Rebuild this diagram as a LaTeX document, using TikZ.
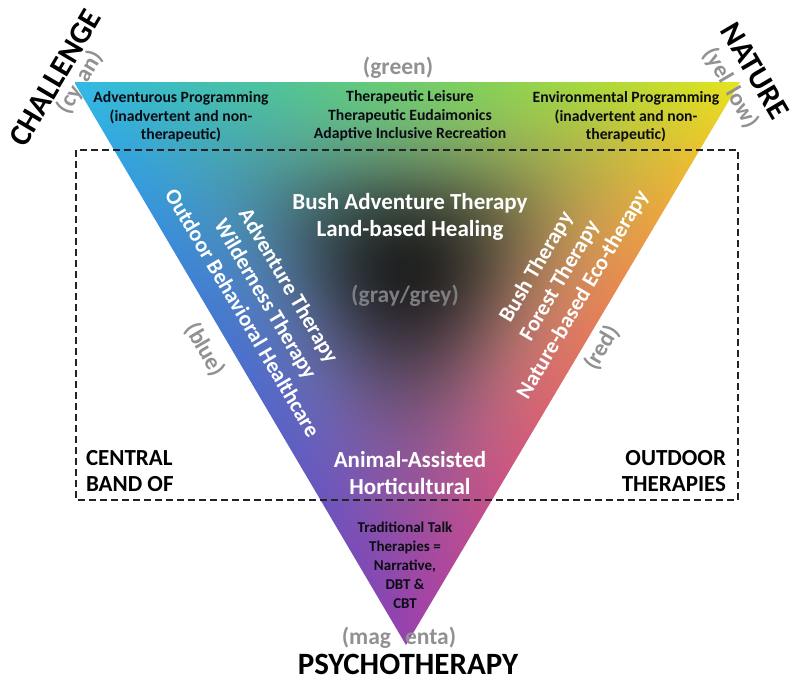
\documentclass[tikz,border=0pt]{standalone}
\usepackage{fontspec}
\setmainfont{Carlito}

% Subtractive colour field over the triangle: barycentric weights (a,b,c) for
% cyan (top left), yellow (top right), magenta (bottom), blended quadratically
% with green / red / blue along the edges and a dark core in the middle.
\pgfdeclarefunctionalshading{cmyblend}{\pgfpoint{0bp}{0bp}}{\pgfpoint{666bp}{563bp}}{}{
563 div 1 exch sub exch 666 div
1 index 0.5 mul 2 copy sub 3 1 roll add neg 1 add
exch 3 -1 roll
2 index dup mul 0.196 mul 2 index dup mul 0.902 mul add 1 index dup mul 0.600 mul add 3 index 3 index mul 0.627 mul add 2 index 2 index mul 2.0 mul add 3 index 2 index mul 0.400 mul add
4 1 roll
2 index dup mul 0.730 mul 2 index dup mul 0.894 mul add 1 index dup mul 0.255 mul add 3 index 3 index mul 1.569 mul add 2 index 2 index mul 0.627 mul add 3 index 2 index mul 0.760 mul add
4 1 roll
2 index dup mul 0.900 mul 2 index dup mul 0.118 mul add 1 index dup mul 0.680 mul add 3 index 3 index mul 0.706 mul add 2 index 2 index mul 0.784 mul add 3 index 2 index mul 1.620 mul add
4 1 roll
mul mul 27 mul dup mul dup mul 0.76 mul neg 1 add
4 1 roll
3 index mul 3 1 roll 3 index mul 3 1 roll 3 index mul 3 1 roll
4 -1 roll pop
}

\definecolor{tagGray}{RGB}{145,145,145}
\definecolor{coreGray}{RGB}{125,125,130}
\definecolor{inkBlack}{RGB}{12,12,20}
\definecolor{boxLine}{RGB}{35,35,35}

\begin{document}
\begin{tikzpicture}[x=1bp,y=-1bp,
  every node/.style={inner sep=0pt, outer sep=0pt},
  cornerlabel/.style={font=\bfseries\fontsize{31bp}{31bp}\selectfont, text=black},
  colortag/.style={font=\bfseries\fontsize{23.5bp}{23.5bp}\selectfont, text=tagGray},
  sideband/.style={font=\bfseries\fontsize{22bp}{27bp}\selectfont, text=white, align=center},
  midtext/.style={font=\bfseries\fontsize{23bp}{26.5bp}\selectfont, text=white, align=center},
  toptext/.style={font=\bfseries\fontsize{15.7bp}{18.5bp}\selectfont, text=inkBlack, align=center},
  talktext/.style={font=\bfseries\fontsize{15bp}{19bp}\selectfont, text=inkBlack, align=center},
  bandtext/.style={font=\bfseries\fontsize{23bp}{26.5bp}\selectfont, text=black},
  bandbox/.style={draw=boxLine, line width=1.6bp, dash pattern=on 7bp off 4bp}
]
\useasboundingbox (0,0) rectangle (790,678);

% triangle corners
\coordinate (cy) at (74,82);
\coordinate (ye) at (740,82);
\coordinate (ma) at (406,645);

% colour field
\begin{scope}
  \clip (cy) -- (ye) -- (ma) -- cycle;
  \node[anchor=south west] (field) at (74,645) {\pgfuseshading{cmyblend}};
\end{scope}

% central band of outdoor therapies
\draw[bandbox] (76,150) rectangle (738,500);

% corner labels
\node[cornerlabel, rotate=59.5] (challenge) at (55,78) {CHALLENGE};
\node[colortag, rotate=59.5] (cyanlbl) at (80,82) {(cy\hspace{9bp}an)};
\node[cornerlabel, rotate=-59.5] (nature) at (755,71) {NATURE};
\node[colortag, rotate=-59.5] (yellowlbl) at (731,88) {(yel\hspace{9bp}low)};
\node[cornerlabel, anchor=base] (psycho) at (408,674) {PSYCHOTHERAPY};
\node[colortag] (magentalbl) at (399,638) {(mag\hspace{14bp}enta)};

% edge labels
\node[colortag] (greenlbl) at (398,68) {(green)};
\node[colortag, rotate=-59.5] (bluelbl) at (205,350) {(blue)};
\node[colortag, rotate=59.5] (redlbl) at (602,348) {(red)};

% top row
\node[toptext] (advprog) at (181,117) {Adventurous Programming\\(inadvertent and non-\\therapeutic)};
\node[toptext] (leisure) at (410,116) {Therapeutic Leisure\\Therapeutic Eudaimonics\\Adaptive Inclusive Recreation};
\node[toptext] (envprog) at (626,117) {Environmental Programming\\(inadvertent and non-\\therapeutic)};

% sides
\node[sideband, rotate=-59.5] (leftband) at (266,299) {Adventure Therapy\\Wilderness Therapy\\Outdoor Behavioral Healthcare};
\node[sideband, rotate=59.5] (rightband) at (560,281) {Bush Therapy\\Forest Therapy\\Nature-based Eco-therapy};

% centre
\node[midtext] (bush) at (410,217) {Bush Adventure Therapy\\Land-based Healing};
\node[colortag, text=coreGray] (graylbl) at (405,296) {(gray/grey)};
\node[midtext] (animal) at (410,473) {Animal-Assisted\\Horticultural};

% bottom
\node[talktext] (talk) at (405,565) {Traditional Talk\\Therapies =\\Narrative,\\DBT \&\\CBT};

% band caption
\node[bandtext, align=left, anchor=west] (central) at (86,471) {CENTRAL\\BAND OF};
\node[bandtext, align=right, anchor=east] (outdoor) at (726,471) {OUTDOOR\\THERAPIES};
\end{tikzpicture}
\end{document}
